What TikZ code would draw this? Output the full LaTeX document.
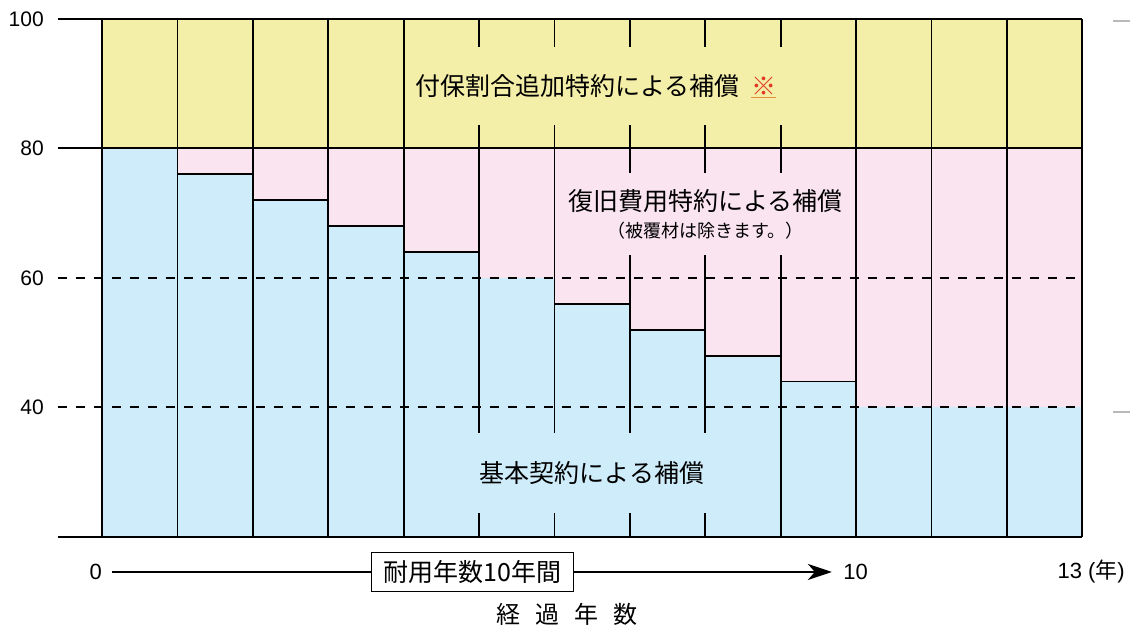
\documentclass[tikz,border=0pt]{standalone}
\usepackage{fontspec}
\setmainfont{Liberation Sans}
\newfontfamily\jp{Noto Sans CJK JP}
\usepackage{xcolor}
\usepackage{tikz}
\usetikzlibrary{arrows.meta}

\definecolor{hoshoY}{RGB}{243,238,168}
\definecolor{hoshoP}{RGB}{250,228,240}
\definecolor{hoshoB}{RGB}{206,236,250}
\definecolor{markR}{RGB}{226,58,36}
\definecolor{markO}{RGB}{226,142,62}

\begin{document}
\begin{tikzpicture}[x=75.4pt, y=6.475pt,
  bar/.style={line width=1.8pt},
  lvl/.style={line width=2pt, dash pattern=on 9pt off 9pt},
  band/.style={inner sep=0pt, align=center, font=\jp\fontsize{25}{30}\selectfont},
  ylab/.style={anchor=east, inner sep=0pt, font=\fontsize{21}{25}\selectfont},
  axlab/.style={inner sep=0pt, font=\fontsize{22}{26}\selectfont}]
  \useasboundingbox (-1.3528,6.41) rectangle (13.634,102.934);

  % Coloured bands
  \fill[hoshoY] (0,80) rectangle (13,100);
  \fill[hoshoP] (0,20) rectangle (13,80);
  \foreach \i/\v in {0/80,1/76,2/72,3/68,4/64,5/60,6/56,7/52,8/48,9/44,10/40,11/40,12/40}
    \fill[hoshoB] (\i,20) rectangle ({\i+1},\v);

  % Columns (one per year)
  \foreach \i in {0,...,13}
    \draw[bar] (\i,20) -- (\i,100);
  \foreach \i/\v in {1/76,2/72,3/68,4/64,6/56,7/52,8/48,9/44}
    \draw[bar] (\i,\v) -- ({\i+1},\v);

  % Levels
  \draw[line width=2pt] (-0.584,100) -- (13,100);
  \draw[line width=2pt] (-0.584,80) -- (13,80);
  \draw[lvl] (-0.584,60) -- (13,60);
  \draw[lvl] (-0.584,40) -- (13,40);
  \draw[line width=2pt] (-0.584,20) -- (13,20);
  \node[ylab] (y100) at (-0.77,100) {100};
  \node[ylab] (y80) at (-0.77,80) {80};
  \node[ylab] (y60) at (-0.77,60) {60};
  \node[ylab] (y40) at (-0.77,40) {40};

  % faint marks on the right
  \draw[gray!55, line width=1.2pt] (13.41,99.7) -- (13.66,99.7);
  \draw[gray!55, line width=1.2pt] (13.41,39.3) -- (13.66,39.3);

  % Band labels
  \node[band, fill=hoshoY, minimum width=376pt, minimum height=78pt] (tsuika) at (6.55,89.65)
    {付保割合追加特約による補償\hspace{12pt}{\color{markO}\underline{\textcolor{markR}{※}}}};
  \node[band, fill=hoshoP, minimum width=290pt, minimum height=82pt] (fukkyu) at (8.0,69.88)
    {復旧費用特約による補償\\[-3pt]{\fontsize{18}{20}\selectfont （被覆材は除きます。）}};
  \node[band, fill=hoshoB, minimum width=360pt, minimum height=80pt] (kihon) at (6.5,29.88)
    {基本契約による補償};

  % Time axis
  \node[axlab, anchor=east] (x0) at (0.0,14.6) {0};
  \coordinate (t0) at (0.13,14.6);
  \node[draw, line width=1.1pt, font=\jp\fontsize{25}{30}\selectfont,
        minimum height=39pt, inner xsep=12pt, inner ysep=0pt] (taiyo) at (4.91,14.6) {耐用年数10年間};
  \coordinate (t10) at (9.68,14.6);
  \draw[line width=2.4pt] (t0) -- (taiyo.west);
  \draw[line width=2.4pt, -{Stealth[length=24pt,width=16pt,inset=7pt]}] (taiyo.east) -- (t10);
  \node[axlab, anchor=west] (x10) at (9.83,14.6) {10};
  \node[axlab, anchor=west] (x13) at (12.67,14.6) {13 ({\jp 年})};
  \node[font=\jp\fontsize{24}{28}\selectfont, inner sep=0pt] (keika) at (6.17,8.11)
    {経\hspace{15pt}過\hspace{15pt}年\hspace{15pt}数};
\end{tikzpicture}
\end{document}
